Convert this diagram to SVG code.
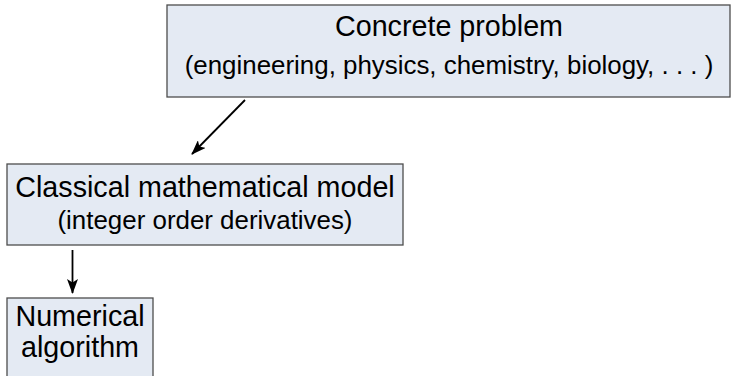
<svg xmlns="http://www.w3.org/2000/svg" width="731" height="376" viewBox="0 0 731 376">
<style>
.box{fill:#e4eaf3;stroke:#4d4d4d;stroke-width:1.3}
.t{font-family:"Liberation Sans",Arial,sans-serif;fill:#000;text-anchor:middle}
.big{font-size:28.7px}
.small{font-size:25.9px}
.conn{stroke:#000;stroke-width:1.8;fill:none}
</style>
<defs>
<marker id="ah" viewBox="0 0 15 11" refX="14" refY="5.5" markerWidth="15" markerHeight="11" markerUnits="userSpaceOnUse" orient="auto">
<path d="M0,0 L15,5.5 L0,11 L3.5,5.5 Z" fill="#000"/>
</marker>
</defs>
<g id="concrete">
<rect class="box" x="167" y="5" width="563" height="92"/>
<text class="t big" x="449" y="36">Concrete problem</text>
<text class="t small" x="449" y="74">(engineering, physics, chemistry, biology, . . . )</text>
</g>
<g id="classical">
<rect class="box" x="7" y="164" width="396" height="81"/>
<text class="t big" x="205" y="197">Classical mathematical model</text>
<text class="t small" x="205" y="229">(integer order derivatives)</text>
</g>
<g id="numerical">
<rect class="box" x="7" y="298" width="146" height="90"/>
<text class="t big" x="80" y="326">Numerical</text>
<text class="t big" x="80" y="357">algorithm</text>
</g>
<g id="connectors">
<line class="conn" x1="245" y1="100" x2="192" y2="154" marker-end="url(#ah)"/>
<line class="conn" x1="72.5" y1="250" x2="72.5" y2="293" marker-end="url(#ah)"/>
</g>
</svg>
